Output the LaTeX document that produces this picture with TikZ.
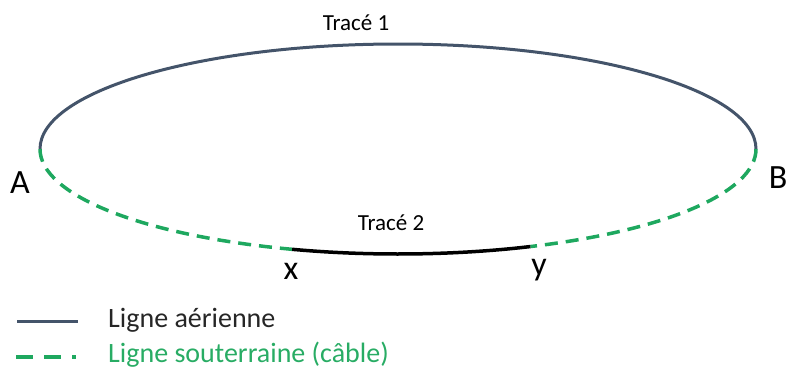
\documentclass[tikz,border=0pt]{standalone}
\usepackage{fontspec}
\setmainfont{Carlito}
\definecolor{aerial}{RGB}{68,84,106}
\definecolor{cable}{RGB}{30,168,95}
\definecolor{cabletext}{RGB}{40,172,100}
\begin{document}
\begin{tikzpicture}[x=1pt,y=-1pt,
  aerline/.style={draw=aerial,line width=3pt},
  cableline/.style={draw=cable,line width=3.5pt,dash pattern=on 13pt off 8pt},
  blackline/.style={draw=black,line width=3.5pt},
  trlabel/.style={font=\fontsize{23}{26}\selectfont,anchor=base,inner sep=0pt},
  ptlabel/.style={font=\fontsize{34}{38}\selectfont,anchor=base,inner sep=0pt},
  leglabel/.style={font=\fontsize{28}{31}\selectfont,anchor=base west,inner sep=0pt}]
\useasboundingbox (0,0) rectangle (787,376);
% points on the ellipse (centre 398,149; radii 358,105)
\coordinate (A) at ({398+358*cos(180)},{149+105*sin(180)});
\coordinate (B) at ({398+358*cos(0)},{149+105*sin(0)});
\coordinate (X) at ({398+358*cos(107.2)},{149+105*sin(107.2)});
\coordinate (Y) at ({398+358*cos(68.3)},{149+105*sin(68.3)});
% Trace 1 (overhead)
\draw[aerline] (A) arc[start angle=180,end angle=360,x radius=358,y radius=105];
% underground parts
\draw[cableline] (A) arc[start angle=180,end angle=107.2,x radius=358,y radius=105];
\draw[cableline] (B) arc[start angle=0,end angle=68.3,x radius=358,y radius=105];
% Trace 2
\draw[blackline] (X) arc[start angle=107.2,end angle=68.3,x radius=358,y radius=105];
% labels
\node[trlabel] (t1) at (356,30) {Tracé 1};
\node[trlabel] (t2) at (391,230) {Tracé 2};
\node[ptlabel] (lA) at (20,193) {A};
\node[ptlabel] (lB) at (778,188) {B};
\node[ptlabel] (lx) at (291,279) {x};
\node[ptlabel] (ly) at (539,275) {y};
% legend
\coordinate (l1a) at (17,321);
\coordinate (l1b) at (78,321);
\draw[aerline] (l1a) -- (l1b);
\coordinate (l2a) at (16,357);
\coordinate (l2b) at (76,357);
\draw[draw=cable,line width=3.5pt,dash pattern=on 17pt off 11pt on 17pt off 11pt on 4pt off 2pt] (l2a) -- (l2b);
\node[leglabel,text=black!85] (leg1) at (108,327) {Ligne aérienne};
\node[leglabel,text=cabletext] (leg2) at (108,362) {Ligne souterraine (câble)};
\end{tikzpicture}
\end{document}
